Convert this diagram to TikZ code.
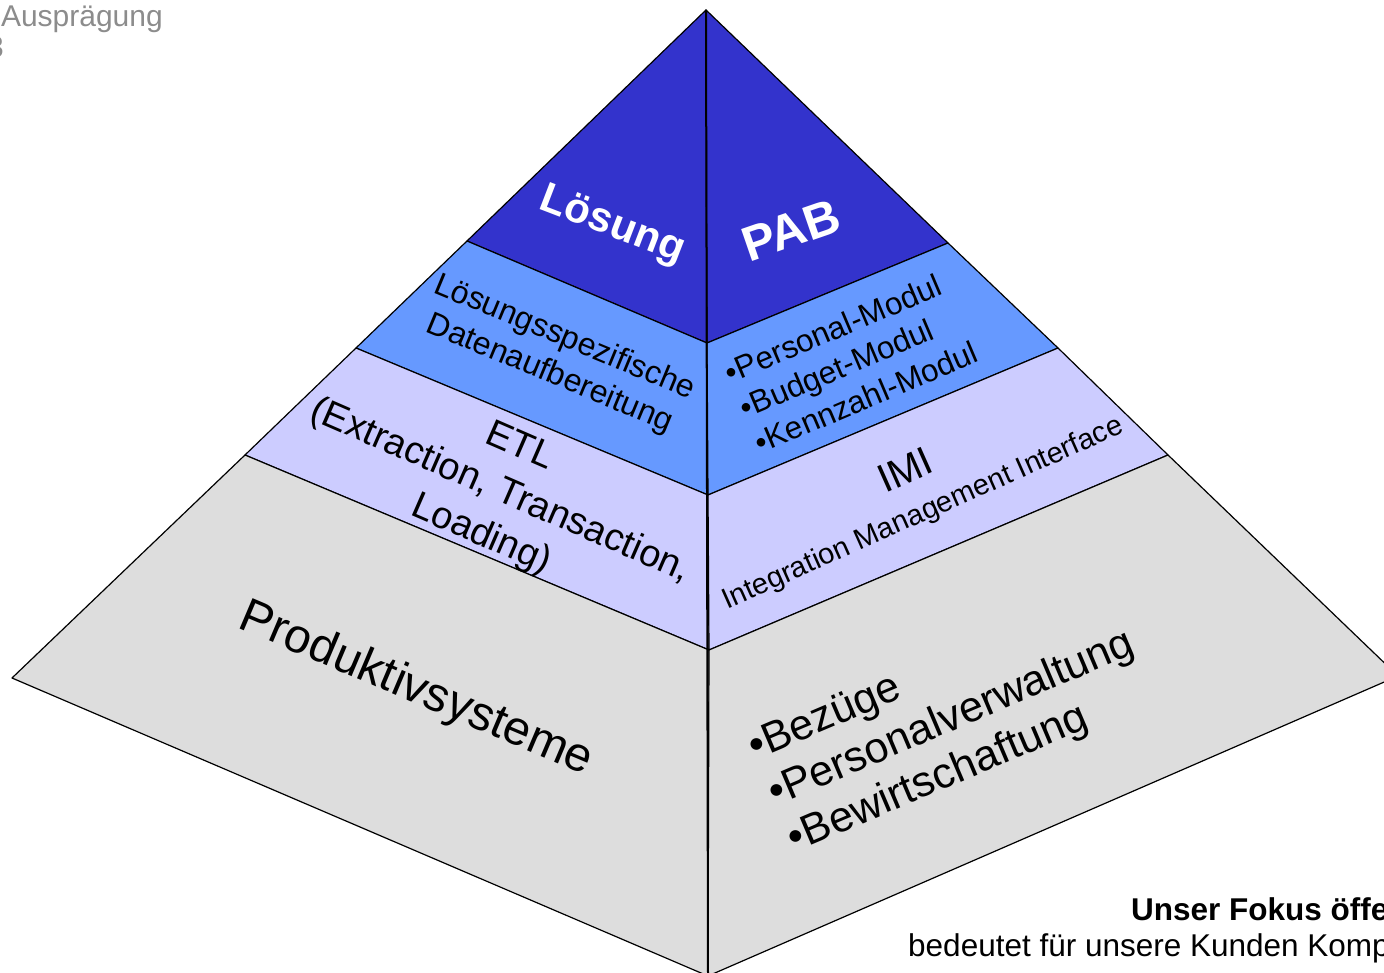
\documentclass[tikz,border=0pt]{standalone}
\usepackage{fontspec}
\setmainfont{Liberation Sans}
\definecolor{pabblue}{HTML}{3333CC}
\definecolor{midblue}{HTML}{6699FF}
\definecolor{lavender}{HTML}{CCCCFF}
\definecolor{basegray}{HTML}{DDDDDD}
\definecolor{notegray}{HTML}{8C8C8C}
\begin{document}
\begin{tikzpicture}[x=1pt,y=-1pt]
           \tikzstyle{face} = [draw=black, line width=1.2pt, line join=round]
           \tikzstyle{txt} = [inner sep=0pt, text=black]

           \useasboundingbox (0,0) rectangle (1384,973);
           \clip (0,0) rectangle (1384,973);

           % corners of the slices
           \coordinate (apex) at (706,10);
           \coordinate (l1) at (467,241);
           \coordinate (c1) at (707,343);
           \coordinate (r1) at (948,243);
           \coordinate (l2) at (356,348);
           \coordinate (c2) at (708,495);
           \coordinate (r2) at (1058,348);
           \coordinate (l3) at (245,455);
           \coordinate (c3) at (709,650);
           \coordinate (r3) at (1168,455);
           \coordinate (l4) at (12,678);
           \coordinate (c4) at (708,976);
           \coordinate (r4) at (1398,676);

           \filldraw[face, fill=pabblue] (apex) -- (l1) -- (c1) -- cycle;
           \filldraw[face, fill=pabblue] (apex) -- (c1) -- (r1) -- cycle;
           \filldraw[face, fill=midblue] (l1) -- (l2) -- (c2) -- (c1) -- cycle;
           \filldraw[face, fill=midblue] (c1) -- (c2) -- (r2) -- (r1) -- cycle;
           \filldraw[face, fill=lavender] (l2) -- (l3) -- (c3) -- (c2) -- cycle;
           \filldraw[face, fill=lavender] (c2) -- (c3) -- (r3) -- (r2) -- cycle;
           \filldraw[face, fill=basegray] (l3) -- (l4) -- (c4) -- (c3) -- cycle;
           \filldraw[face, fill=basegray] (c3) -- (c4) -- (r4) -- (r3) -- cycle;
           \draw[line width=2pt] (apex) -- (c4);

           \node (loesung) [txt, text=white, rotate=-21, font=\fontsize{42}{48}\selectfont\bfseries] at (612,226) {Lösung};
           \node (pab) [txt, text=white, rotate=19, font=\fontsize{49}{54}\selectfont\bfseries] at (791,230) {PAB};
           \node (aufbereitung) [txt, rotate=-22.5, align=center, font=\fontsize{32}{39}\selectfont] at (557,356) {Lösungsspezifische\\Datenaufbereitung};
           \node (module) [txt, rotate=23, align=left, anchor=west, font=\fontsize{31.5}{38}\selectfont] at (741,409) {\textbullet Personal-Modul\\\textbullet Budget-Modul\\\textbullet Kennzahl-Modul};
           \node (etl) [txt, rotate=-23.5, align=center, font=\fontsize{38}{48}\selectfont] at (500,492) {ETL\\(Extraction, Transaction,\\Loading)};
           \node (imi) [txt, rotate=24, font=\fontsize{40}{46}\selectfont] at (905,470) {IMI};
           \node (imisub) [txt, rotate=24, font=\fontsize{29}{33}\selectfont] at (923,514) {Integration Management Interface};
           \node (produktiv) [txt, rotate=-23, font=\fontsize{48}{54}\selectfont] at (416,690) {Produktivsysteme};
           \node (systeme) [txt, rotate=23, align=left, anchor=west, font=\fontsize{43}{50}\selectfont] at (771,797) {\textbullet Bezüge\\\textbullet Personalverwaltung\\\textbullet Bewirtschaftung};

           \node (auspraegung) [txt, text=notegray, anchor=base east, font=\fontsize{30}{34}\selectfont] at (163,27) {Ausprägung};
           \node (stufe) [txt, text=notegray, anchor=base east, font=\fontsize{30}{34}\selectfont] at (4,58) {3};
           \node (fokus) [txt, anchor=base west, font=\fontsize{31.5}{36}\selectfont\bfseries] at (1131,920) {Unser Fokus öffe};
           \node (kunden) [txt, anchor=base west, font=\fontsize{31.5}{36}\selectfont] at (908,956) {bedeutet für unsere Kunden Komp};
       \end{tikzpicture}
\end{document}
